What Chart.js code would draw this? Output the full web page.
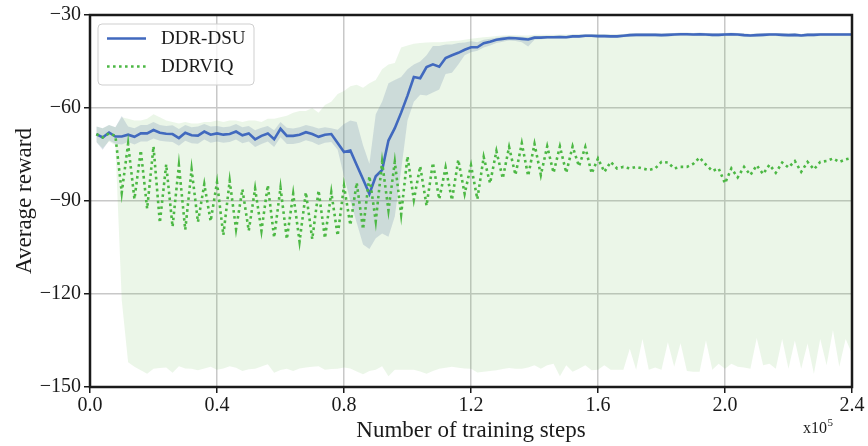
<!DOCTYPE html>
<html>
<head>
<meta charset="utf-8">
<title>Average reward</title>
<script src="https://cdn.jsdelivr.net/npm/chart.js@4.4.1/dist/chart.umd.min.js"></script>
<style>
  html, body { margin: 0; padding: 0; background: #fff; }
  #wrap { width: 868px; height: 446px; }
</style>
</head>
<body>
<div id="wrap"><canvas id="rewardChart" width="868" height="446"></canvas></div>
<script>
// x grid: training steps in units of 1e5, one sample every 0.02
const steps = Array.from({ length: 120 }, (_, i) => +((i + 1) * 0.02).toFixed(2));
const xTicks = [0, 0.4, 0.8, 1.2, 1.6, 2.0, 2.4];
const yTicks = [-150, -120, -90, -60, -30];
const seriesNames = ['DDR-DSU', 'DDRVIQ'];

// DDR-DSU mean reward
const dsu = [
  -68.4, -69.5, -67.9, -69.2, -69.2, -68.6, -69.3, -68.2, -68.2, -67.1,
  -68.0, -68.3, -68.4, -69.7, -68.0, -68.8, -68.9, -67.6, -68.6, -68.2,
  -68.6, -68.4, -67.6, -68.8, -68.2, -70.1, -69.0, -68.2, -70.1, -66.7,
  -69.0, -69.0, -68.6, -67.8, -68.4, -69.3, -68.6, -68.4, -71.3, -74.2,
  -73.7, -78.4, -83.0, -87.7, -82.0, -80.0, -70.5, -66.5, -61.5, -56.0,
  -50.0, -50.4, -46.8, -45.9, -46.7, -43.9, -43.0, -42.2, -41.2, -40.4,
  -40.4, -39.1, -38.6, -38.0, -37.7, -37.4, -37.5, -37.7, -37.9, -37.3,
  -37.3, -37.2, -37.2, -37.1, -37.2, -36.9, -36.9, -36.7, -36.7, -36.8,
  -36.8, -36.9, -36.9, -36.7, -36.5, -36.4, -36.4, -36.4, -36.4, -36.5,
  -36.4, -36.3, -36.2, -36.2, -36.3, -36.2, -36.3, -36.4, -36.4, -36.3,
  -36.2, -36.3, -36.5, -36.6, -36.5, -36.4, -36.3, -36.3, -36.4, -36.5,
  -36.4, -36.6, -36.4, -36.4, -36.3, -36.3, -36.3, -36.3, -36.3, -36.3
];
const dsuUpper = [
  -66.0, -66.5, -65.5, -66.2, -62.6, -66.0, -66.5, -65.5, -65.5, -64.5,
  -65.5, -65.8, -65.6, -66.8, -65.5, -66.2, -66.0, -65.2, -66.0, -65.8,
  -66.2, -66.0, -65.2, -66.2, -65.8, -67.2, -66.4, -65.8, -67.2, -64.5,
  -66.4, -66.6, -66.2, -65.5, -66.0, -66.6, -66.2, -66.5, -67.0, -65.2,
  -64.0, -64.5, -72.0, -78.0, -62.0, -58.0, -52.0, -51.0, -50.0, -47.5,
  -46.0, -45.0, -43.0, -40.0, -40.0, -39.5, -39.5, -39.0, -38.9, -38.5,
  -38.8, -38.0, -37.7, -37.3, -37.0, -36.8, -36.9, -37.0, -37.2, -36.8,
  -36.8, -36.7, -36.7, -36.6, -36.7, -36.4, -36.4, -36.2, -36.2, -36.3,
  -36.3, -36.4, -36.4, -36.2, -36.0, -35.9, -35.9, -35.9, -35.9, -36.0,
  -35.9, -35.8, -35.7, -35.7, -35.8, -35.7, -35.8, -35.9, -35.9, -35.8,
  -35.7, -35.8, -36.0, -36.1, -36.0, -35.9, -35.8, -35.8, -35.9, -36.0,
  -35.9, -36.1, -35.9, -35.9, -35.8, -35.8, -35.8, -35.8, -35.8, -35.8
];
const dsuLower = [
  -71.0, -73.5, -70.5, -71.5, -71.8, -71.0, -71.8, -70.8, -70.8, -69.8,
  -70.6, -70.8, -71.0, -72.2, -70.6, -71.4, -71.5, -70.2, -71.2, -70.8,
  -71.2, -71.0, -70.2, -71.4, -70.8, -72.6, -71.6, -70.8, -72.6, -69.4,
  -71.6, -71.6, -71.2, -70.4, -71.0, -71.9, -71.2, -71.0, -73.5, -82.0,
  -90.0, -97.0, -104.0, -105.5, -102.0, -100.5, -101.5, -95.0, -80.0, -64.0,
  -58.0, -55.7, -56.0, -55.0, -54.0, -49.0, -48.6, -46.0, -43.0, -42.0,
  -41.5, -40.5, -39.8, -39.0, -38.6, -38.2, -38.4, -38.8, -40.2, -38.0,
  -37.8, -37.7, -37.7, -37.6, -37.7, -37.4, -37.4, -37.2, -37.2, -37.3,
  -37.3, -37.4, -37.4, -37.2, -37.0, -36.9, -36.9, -36.9, -36.9, -37.0,
  -36.9, -36.8, -36.7, -36.7, -36.8, -36.7, -36.8, -36.9, -36.9, -36.8,
  -36.7, -36.8, -37.0, -37.1, -37.0, -36.9, -36.8, -36.8, -36.9, -37.0,
  -36.9, -37.1, -36.9, -36.9, -36.8, -36.8, -36.8, -36.8, -36.8, -36.8
];

// DDRVIQ mean reward
const viq = [
  -68.4, -69.5, -68.2, -69.0, -87.3, -71.6, -89.4, -73.7, -92.5, -72.4,
  -97.0, -78.2, -98.3, -78.5, -99.3, -79.8, -96.8, -84.6, -96.5, -84.0,
  -101.0, -83.5, -99.1, -86.2, -99.6, -86.0, -99.6, -84.9, -101.8, -85.7,
  -102.3, -87.7, -103.1, -87.2, -102.3, -86.6, -102.0, -87.2, -101.2, -85.1,
  -97.8, -84.1, -99.1, -82.0, -96.5, -77.4, -93.0, -77.4, -94.3, -75.6,
  -89.6, -78.8, -91.5, -77.7, -89.4, -79.2, -89.7, -76.7, -87.7, -78.5,
  -89.4, -75.8, -84.3, -73.9, -82.7, -72.6, -81.6, -71.4, -81.9, -71.6,
  -81.6, -72.4, -80.9, -72.4, -80.9, -72.4, -78.8, -72.6, -81.1, -76.3,
  -80.6, -77.4, -79.5, -79.0, -79.5, -79.0, -79.5, -80.0, -79.5, -77.4,
  -77.6, -79.5, -79.0, -79.0, -78.0, -76.0, -78.3, -80.3, -79.5, -84.3,
  -79.5, -82.4, -79.0, -81.6, -78.5, -81.3, -78.3, -80.9, -77.6, -79.2,
  -77.1, -80.6, -77.4, -79.8, -77.4, -77.1, -76.3, -77.4, -76.6, -76.1
];
const viqUpper = [
  -66.0, -66.5, -65.5, -66.2, -63.0, -63.5, -64.0, -64.0, -63.5, -62.0,
  -63.0, -64.0, -64.5, -65.0, -64.5, -65.0, -65.0, -64.5, -64.5, -64.0,
  -64.5, -64.0, -64.0, -64.5, -64.0, -64.0, -64.5, -63.5, -63.5, -63.0,
  -62.5, -61.5, -61.0, -61.0, -60.0, -61.5, -59.0, -58.0, -55.5, -54.5,
  -53.0, -52.5, -53.5, -52.0, -51.0, -47.5, -46.0, -45.5, -40.5, -39.8,
  -39.3, -39.0, -38.9, -38.8, -38.8, -38.6, -38.4, -38.3, -38.0, -37.7,
  -37.4, -37.2, -37.0, -36.8, -36.6, -36.5, -36.5, -36.6, -36.6, -36.4,
  -36.4, -36.4, -36.4, -36.3, -36.3, -36.2, -36.2, -36.1, -36.1, -36.1,
  -36.1, -36.2, -36.2, -36.1, -36.0, -35.9, -35.9, -35.9, -35.9, -36.0,
  -35.9, -35.8, -35.7, -35.7, -35.8, -35.7, -35.8, -35.9, -35.9, -35.8,
  -35.7, -35.8, -36.0, -36.1, -36.0, -35.9, -35.8, -35.8, -35.9, -36.0,
  -35.9, -36.1, -35.9, -35.9, -35.8, -35.8, -35.8, -35.8, -35.8, -35.8
];
const viqLower = [
  -71.0, -73.0, -70.8, -72.0, -122.0, -142.0, -143.5, -144.6, -145.7, -144.1,
  -143.9, -143.7, -145.4, -143.3, -144.0, -144.1, -144.6, -144.0, -143.5, -144.4,
  -144.0, -143.3, -143.8, -144.8, -144.3, -144.1, -143.4, -142.7, -145.4, -144.5,
  -144.1, -144.8, -144.0, -143.7, -143.5, -143.3, -144.4, -144.2, -144.1, -143.7,
  -144.0, -145.0, -145.9, -144.8, -144.4, -143.3, -146.5, -144.4, -144.4, -144.4,
  -144.4, -145.0, -145.7, -144.8, -144.1, -143.8, -143.5, -143.8, -144.0, -144.1,
  -145.3, -145.1, -144.8, -144.6, -144.2, -143.9, -144.1, -144.1, -143.7, -143.0,
  -144.1, -143.0, -142.5, -146.5, -143.0, -145.1, -144.1, -143.0, -144.6, -144.4,
  -143.0, -144.4, -144.4, -144.4, -137.7, -144.4, -134.5, -144.4, -143.7, -144.4,
  -135.6, -143.5, -135.9, -144.8, -145.1, -145.1, -135.0, -144.4, -142.5, -144.1,
  -142.5, -143.5, -143.7, -144.1, -134.2, -143.0, -142.5, -144.1, -134.5, -144.1,
  -135.0, -144.1, -136.0, -145.7, -134.5, -143.0, -131.7, -143.5, -134.5, -139.3
];

const FONT = '"Liberation Serif", "Times New Roman", serif';
const blue = '#4169be';
const green = '#4cb844';

const pts = arr => steps.map((x, i) => ({ x: x, y: arr[i] }));

// draws the box frame, the inset legend and the x10^5 multiplier
const framePlugin = {
  id: 'frame',
  afterDraw(chart) {
    const { ctx, chartArea: a } = chart;
    ctx.save();
    ctx.lineWidth = 2.5;
    ctx.strokeStyle = '#1a1a1a';
    ctx.strokeRect(a.left, a.top, a.right - a.left, a.bottom - a.top);

    // legend
    const lx = a.left + 8, ly = a.top + 9, lw = 156, lh = 61;
    ctx.beginPath();
    ctx.roundRect(lx, ly, lw, lh, 4);
    ctx.fillStyle = 'rgba(255,255,255,0.8)';
    ctx.fill();
    ctx.lineWidth = 1;
    ctx.strokeStyle = '#cfcfcf';
    ctx.stroke();

    const rows = [
      { name: seriesNames[0], color: blue, dash: [] },
      { name: seriesNames[1], color: green, dash: [2.6, 3.4] }
    ];
    ctx.font = '19px ' + FONT;
    ctx.textBaseline = 'middle';
    rows.forEach((r, i) => {
      const y = ly + 14.5 + i * 28;
      ctx.beginPath();
      ctx.setLineDash(r.dash);
      ctx.lineWidth = 2.6;
      ctx.strokeStyle = r.color;
      ctx.moveTo(lx + 9, y);
      ctx.lineTo(lx + 48, y);
      ctx.stroke();
      ctx.setLineDash([]);
      ctx.fillStyle = '#1a1a1a';
      ctx.fillText(r.name, lx + 63, y + 1);
    });

    // x10^5
    ctx.textBaseline = 'alphabetic';
    ctx.font = '16px ' + FONT;
    const bx = a.right - 49, by = a.bottom + 46;
    ctx.fillText('x10', bx, by);
    const w = ctx.measureText('x10').width;
    ctx.font = '11px ' + FONT;
    ctx.fillText('5', bx + w + 0.5, by - 7);
    ctx.restore();
  }
};

const ctx = document.getElementById('rewardChart').getContext('2d');
Chart.defaults.color = '#1a1a1a';
Chart.defaults.font.family = FONT;

const rewardChart = new Chart(ctx, {
  type: 'line',
  data: {
    datasets: [
      { label: seriesNames[1], data: pts(viq), borderColor: green, borderWidth: 2.6,
        borderDash: [2.6, 3.4], pointRadius: 0, fill: false, order: 0 },
      { label: seriesNames[0], data: pts(dsu), borderColor: blue, borderWidth: 2.6,
        pointRadius: 0, fill: false, order: 1 },
      { label: 'dsu lower', data: pts(dsuLower), borderWidth: 0, pointRadius: 0,
        fill: false, order: 2 },
      { label: 'dsu upper', data: pts(dsuUpper), borderWidth: 0, pointRadius: 0,
        fill: 2, backgroundColor: 'rgba(110,140,175,0.25)', order: 2 },
      { label: 'viq lower', data: pts(viqLower), borderWidth: 0, pointRadius: 0,
        fill: false, order: 3 },
      { label: 'viq upper', data: pts(viqUpper), borderWidth: 0, pointRadius: 0,
        fill: 4, backgroundColor: 'rgba(110,190,90,0.14)', order: 3 }
    ]
  },
  options: {
    responsive: false,
    animation: false,
    layout: { padding: { top: 9, right: 16, left: 0, bottom: 0 } },
    elements: { line: { tension: 0 } },
    plugins: {
      legend: { display: false },
      tooltip: { enabled: false }
    },
    scales: {
      x: {
        type: 'linear',
        min: 0,
        max: 2.4,
        afterBuildTicks: s => { s.ticks = xTicks.map(v => ({ value: v })); },
        afterFit: s => { s.height = 59; },
        ticks: {
          font: { size: 20, family: FONT },
          padding: 1,
          maxRotation: 0,
          callback: v => v.toFixed(1)
        },
        grid: { color: '#c8c8c8', lineWidth: 1.5, tickLength: 6,
                tickColor: '#1a1a1a', tickWidth: 1.5 },
        border: { display: false },
        title: {
          display: true,
          text: 'Number of training steps',
          font: { size: 23, family: FONT },
          padding: { top: 0, bottom: 1 }
        }
      },
      y: {
        min: -150,
        max: -30,
        afterBuildTicks: s => { s.ticks = yTicks.map(v => ({ value: v })); },
        afterFit: s => { s.width = 90; },
        ticks: {
          font: { size: 20, family: FONT },
          padding: 3,
          callback: v => String(v).replace('-', '\u2212')
        },
        grid: { color: '#c8c8c8', lineWidth: 1.5, tickLength: 6,
                tickColor: '#1a1a1a', tickWidth: 1.5 },
        border: { display: false },
        title: {
          display: true,
          text: 'Average reward',
          font: { size: 23, family: FONT },
          padding: { top: 11, bottom: 0 }
        }
      }
    }
  },
  plugins: [framePlugin]
});
</script>
</body>
</html>
